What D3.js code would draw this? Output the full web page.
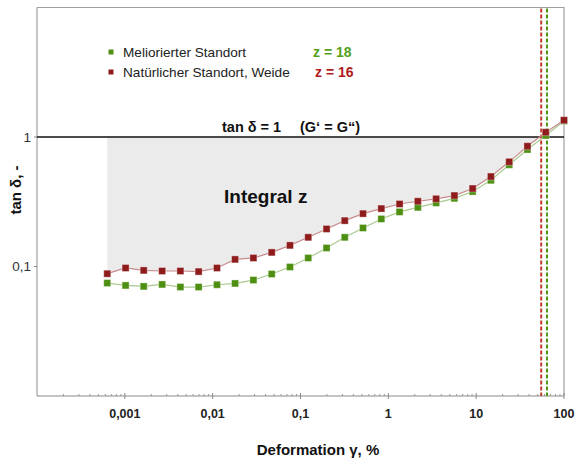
<!DOCTYPE html>
<html>
<head>
<meta charset="utf-8">
<script src="https://cdn.jsdelivr.net/npm/d3@7"></script>
<style>
  body { margin: 0; background: #fff; }
  svg { display: block; font-family: "Liberation Sans", Arial, sans-serif; }
</style>
</head>
<body>
<svg id="chart" width="580" height="464"></svg>
<script>
// deformation (%) of each measuring step
var deformation = [0.000631, 0.00102, 0.00164, 0.00266, 0.00429, 0.00692, 0.0112, 0.0180, 0.0291,
  0.0470, 0.0759, 0.1225, 0.198, 0.319, 0.515, 0.832, 1.343, 2.168, 3.50, 5.65, 9.12, 14.72,
  23.77, 38.37, 61.94, 100];
// tan delta, meliorierter Standort (green)
var tanMelioriert = [0.0745, 0.0714, 0.0702, 0.0727, 0.0694, 0.0694, 0.0723, 0.0740, 0.0786,
  0.0875, 0.0991, 0.1164, 0.139, 0.168, 0.1985, 0.233, 0.264, 0.286, 0.310, 0.336, 0.379,
  0.463, 0.610, 0.80, 1.027, 1.33];
// tan delta, natuerlicher Standort / Weide (red)
var tanNatuerlich = [0.0880, 0.0974, 0.0933, 0.0923, 0.0923, 0.0913, 0.0974, 0.1135, 0.1164,
  0.1285, 0.1456, 0.168, 0.195, 0.226, 0.256, 0.280, 0.304, 0.319, 0.333, 0.353, 0.400,
  0.495, 0.643, 0.849, 1.089, 1.349];
// crossover deformations (tan d = 1)
var crossNatuerlich = 55;
var crossMelioriert = 64;
var xTicks = [0.001, 0.01, 0.1, 1, 10, 100];
var xTickLabels = ["0,001", "0,01", "0,1", "1", "10", "100"];
var yTicks = [1, 0.1];
var yTickLabels = ["1", "0,1"];

var green = "#4e8f12", red = "#8e1c1c";
var svg = d3.select("#chart");
var x = d3.scaleLog().domain([1e-4, 100]).range([37, 564]);
var y = d3.scaleLog().domain([0.01, 10]).range([396, 7.5]);

var red_pts = deformation.map(function (d, i) { return [d, tanNatuerlich[i]]; });
var green_pts = deformation.map(function (d, i) { return [d, tanMelioriert[i]]; });

// grey area between tan d = 1 and the red curve
var area = [];
for (var i = 0; i < red_pts.length; i++) {
  if (red_pts[i][1] >= 1) {
    var a = red_pts[i - 1], b = red_pts[i];
    var t = (0 - Math.log10(a[1])) / (Math.log10(b[1]) - Math.log10(a[1]));
    var xc = Math.pow(10, Math.log10(a[0]) + t * (Math.log10(b[0]) - Math.log10(a[0])));
    area.push([xc, 1]);
    break;
  }
  area.push(red_pts[i]);
}
var poly = [[deformation[0], 1]].concat(area);
svg.append("path")
  .attr("d", "M" + poly.map(function (p) { return x(p[0]) + "," + y(p[1]); }).join("L") + "Z")
  .attr("fill", "#ebebeb");

// frame
svg.append("path").attr("d", "M" + x(1e-4) + "," + y(10) + "H" + x(100) + "V" + y(0.01))
  .attr("fill", "none").attr("stroke", "#a0a0a0").attr("stroke-width", 1.2);
svg.append("line").attr("x1", x(1e-4)).attr("x2", x(1e-4)).attr("y1", y(10)).attr("y2", y(0.01))
  .attr("stroke", "#a0a0a0").attr("stroke-width", 1.2);

// x axis
var xAxis = svg.append("g").attr("transform", "translate(0," + y(0.01) + ")");
xAxis.append("line").attr("x1", x(1e-4)).attr("x2", x(100)).attr("stroke", "#8a8a8a").attr("stroke-width", 1.2);
var minor = [];
for (var e = -4; e < 2; e++) for (var m = 2; m < 10; m++) minor.push(m * Math.pow(10, e));
xAxis.selectAll(".mn").data(minor).enter().append("line")
  .attr("x1", function (d) { return x(d); }).attr("x2", function (d) { return x(d); })
  .attr("y1", -2).attr("y2", 0).attr("stroke", "#999");
xAxis.selectAll(".mj").data(xTicks).enter().append("line")
  .attr("x1", function (d) { return x(d); }).attr("x2", function (d) { return x(d); })
  .attr("y1", -3).attr("y2", 3).attr("stroke", "#888");
xAxis.selectAll("text").data(xTicks).enter().append("text")
  .attr("x", function (d) { return x(d); }).attr("y", 22)
  .attr("text-anchor", "middle").attr("font-size", 12.5).attr("font-weight", "bold").attr("fill", "#222")
  .text(function (d, i) { return xTickLabels[i]; });

// y axis ticks
var yAxis = svg.append("g").attr("transform", "translate(" + x(1e-4) + ",0)");
yAxis.selectAll("line").data(yTicks).enter().append("line")
  .attr("x1", -3).attr("x2", 0).attr("y1", function (d) { return y(d); }).attr("y2", function (d) { return y(d); })
  .attr("stroke", "#888");
yAxis.selectAll("text").data(yTicks).enter().append("text")
  .attr("x", -6).attr("y", function (d) { return y(d) + 4.5; })
  .attr("text-anchor", "end").attr("font-size", 13.5).attr("fill", "#333")
  .text(function (d, i) { return yTickLabels[i]; });

// tan d = 1 line
svg.append("line").attr("x1", x(1e-4)).attr("x2", x(100)).attr("y1", y(1)).attr("y2", y(1))
  .attr("stroke", "#111").attr("stroke-width", 1.4);

// crossover dashed lines
[[crossNatuerlich, "#c0392b"], [crossMelioriert, "#4e9a12"]].forEach(function (c) {
  svg.append("line").attr("x1", x(c[0])).attr("x2", x(c[0])).attr("y1", y(10) + 1).attr("y2", y(0.01))
    .attr("stroke", c[1]).attr("stroke-width", 2).attr("stroke-dasharray", "4,2");
});

// series
var line = d3.line().x(function (p) { return x(p[0]); }).y(function (p) { return y(p[1]); });
function series(pts, col, lineCol) {
  svg.append("path").attr("d", line(pts)).attr("fill", "none").attr("stroke", lineCol).attr("stroke-width", 1.2);
  svg.append("g").selectAll("rect").data(pts).enter().append("rect")
    .attr("x", function (p) { return x(p[0]) - 3.5; }).attr("y", function (p) { return y(p[1]) - 3.5; })
    .attr("width", 7).attr("height", 7).attr("fill", col)
    .attr("stroke", "#fff").attr("stroke-opacity", 0.35).attr("stroke-width", 1);
}
series(green_pts, green, "#a9c98f");
series(red_pts, red, "#c98c8c");

// legend
var legend = [["Meliorierter Standort", green, "z = 18", "#55a01a", 313],
              ["Natürlicher Standort, Weide", red, "z = 16", "#b01c1c", 315]];
legend.forEach(function (l, i) {
  var ly = 52 + i * 20;
  svg.append("rect").attr("x", 108.5).attr("y", ly - 2.5).attr("width", 5).attr("height", 5).attr("fill", l[1]);
  svg.append("text").attr("x", 123).attr("y", ly + 5).attr("font-size", 13.6).attr("fill", "#222").text(l[0]);
  svg.append("text").attr("x", l[4]).attr("y", ly + 5).attr("font-size", 14).attr("font-weight", "bold")
    .attr("fill", l[3]).text(l[2]);
});

// annotations
svg.append("text").attr("x", 222).attr("y", 132).attr("font-size", 14.5).attr("font-weight", "bold")
  .attr("fill", "#111").text("tan δ = 1");
svg.append("text").attr("x", 300).attr("y", 132).attr("font-size", 14.5).attr("font-weight", "bold")
  .attr("fill", "#111").text("(G‘ = G“)");
svg.append("text").attr("x", 224).attr("y", 203).attr("font-size", 19).attr("font-weight", "bold")
  .attr("fill", "#111").text("Integral z");

// axis titles
svg.append("text").attr("x", 318).attr("y", 455).attr("text-anchor", "middle").attr("font-size", 15)
  .attr("font-weight", "bold").attr("fill", "#111").text("Deformation γ, %");
svg.append("text").attr("transform", "translate(21,190) rotate(-90)").attr("text-anchor", "middle")
  .attr("font-size", 15).attr("font-weight", "bold").attr("fill", "#111").text("tan δ, -");
</script>
</body>
</html>
